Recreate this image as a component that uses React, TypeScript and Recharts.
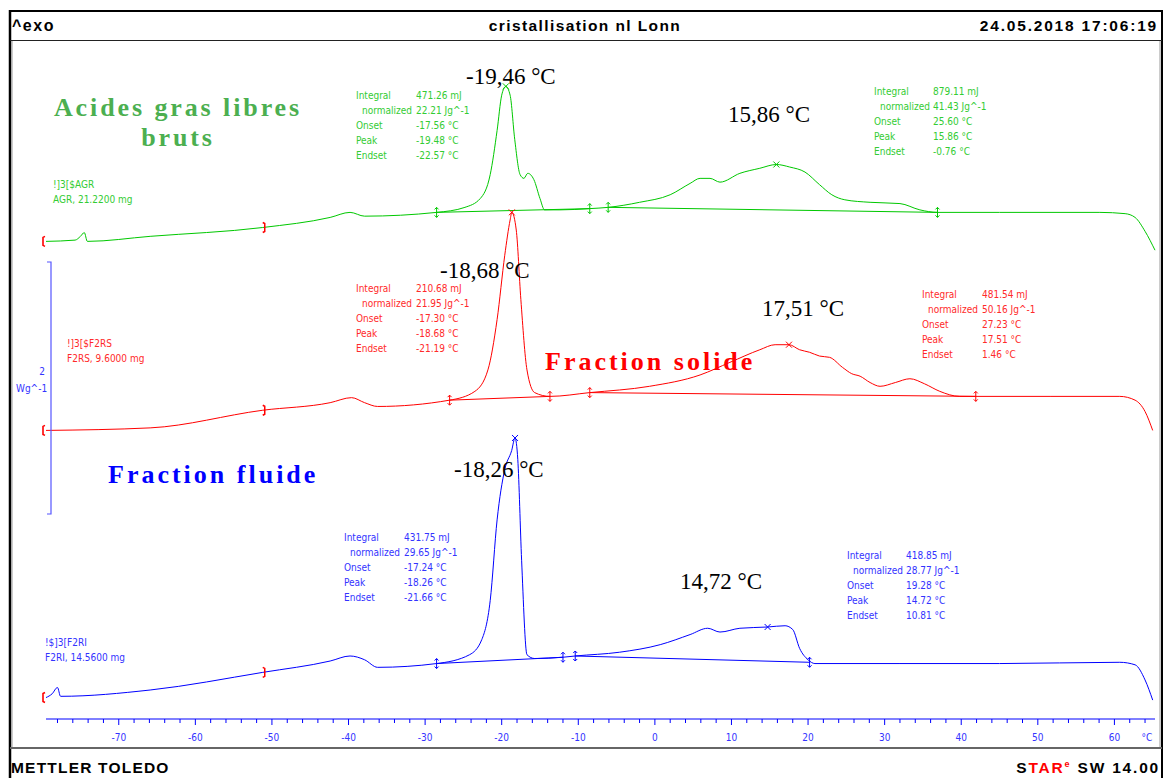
import React from 'react';
import { ComposedChart, Line, Scatter, XAxis, YAxis } from 'recharts';

// Heat flow curves: [temperature °C, heat flow W/g (stacked offset)]
const agrCurve: [number, number][] = [
  [-79.5, 3.79], [-75.7, 3.8], [-75.0, 3.83], [-74.5, 3.86], [-74.1, 3.79], [-65.9, 3.83], [-51.2, 3.9],
  [-42.4, 3.98], [-39.8, 4.02], [-37.9, 3.99], [-28.5, 4.02], [-24.8, 4.06], [-22.8, 4.13], [-21.5, 4.32],
  [-20.6, 4.67], [-20.0, 4.95], [-19.46, 5.02], [-18.9, 4.95], [-18.3, 4.6], [-17.6, 4.32], [-17.1, 4.29],
  [-16.6, 4.33], [-15.8, 4.28], [-15.0, 4.13], [-14.4, 4.04], [-12.4, 4.04], [-8.5, 4.05], [-6.1, 4.06],
  [-2.0, 4.1], [2.0, 4.16], [4.6, 4.25], [5.9, 4.29], [7.2, 4.29], [8.5, 4.26], [11.1, 4.33], [13.7, 4.37],
  [15.86, 4.4], [17.6, 4.38], [19.6, 4.34], [21.5, 4.24], [23.1, 4.16], [24.8, 4.12], [28.1, 4.1], [32.0, 4.09],
  [34.6, 4.04], [36.9, 4.02], [45.0, 4.02], [58.1, 4.02], [61.4, 4.01], [62.7, 3.98], [64.0, 3.87], [65.3, 3.72],
];
const f2rsCurve: [number, number][] = [
  [-79.5, 2.29], [-65.9, 2.31], [-51.2, 2.45], [-42.4, 2.51], [-39.6, 2.55], [-37.9, 2.51], [-36.2, 2.48],
  [-26.8, 2.53], [-23.5, 2.6], [-21.8, 2.77], [-20.6, 3.17], [-19.6, 3.68], [-18.9, 3.96], [-18.68, 4.02],
  [-18.1, 3.88], [-17.5, 3.33], [-16.7, 2.77], [-15.7, 2.59], [-13.7, 2.56], [-8.5, 2.59], [-0.7, 2.64],
  [5.9, 2.73], [9.8, 2.83], [13.7, 2.93], [15.7, 2.97], [17.51, 2.97], [18.9, 2.93], [20.2, 2.91], [21.5, 2.88],
  [22.8, 2.87], [24.5, 2.79], [25.7, 2.74], [26.8, 2.72], [28.1, 2.67], [29.4, 2.64], [31.4, 2.67], [33.3, 2.7],
  [35.2, 2.66], [37.2, 2.6], [39.8, 2.56], [41.9, 2.56], [51.6, 2.56], [60.7, 2.56], [62.7, 2.53], [64.0, 2.44],
  [65.0, 2.29],
];
const f2riCurve: [number, number][] = [
  [-79.5, 0.17], [-78.7, 0.2], [-78.0, 0.25], [-77.6, 0.18], [-65.9, 0.23], [-51.2, 0.37], [-42.4, 0.46],
  [-39.8, 0.5], [-37.9, 0.47], [-36.2, 0.41], [-28.5, 0.44], [-24.2, 0.51], [-22.6, 0.63], [-21.5, 0.94],
  [-20.6, 1.58], [-19.6, 1.98], [-18.7, 2.13], [-18.26, 2.23], [-17.9, 2.06], [-17.4, 1.26], [-16.7, 0.51],
  [-15.7, 0.48], [-12.0, 0.49], [-10.4, 0.5], [-4.6, 0.53], [0.7, 0.59], [4.6, 0.67], [6.9, 0.72], [8.5, 0.69],
  [11.1, 0.72], [14.72, 0.73], [17.0, 0.74], [18.0, 0.71], [18.9, 0.56], [20.0, 0.47], [20.9, 0.44],
  [32.0, 0.44], [45.0, 0.44], [60.7, 0.45], [62.7, 0.43], [64.0, 0.31], [65.0, 0.15],
];

// Integration baselines (pairs of limits)
const agrBaselines: [number, number][][] = [[[-28.5, 4.02], [-8.5, 4.05]], [[-6.1, 4.06], [36.9, 4.02]]];
const f2rsBaselines: [number, number][][] = [[[-26.8, 2.53], [-13.7, 2.56]], [[-8.5, 2.59], [41.9, 2.56]]];
const f2riBaselines: [number, number][][] = [[[-28.5, 0.44], [-12.0, 0.49]], [[-10.4, 0.5], [20.2, 0.45]]];

// Peaks
const agrPeaks: [number, number][] = [[-19.46, 5.02], [15.86, 4.4]];
const f2rsPeaks: [number, number][] = [[-18.68, 4.02], [17.51, 2.97]];
const f2riPeaks: [number, number][] = [[-18.26, 2.23], [14.72, 0.73]];

// Evaluation range brackets
const rangeStart: [number, number][] = [[-79.5, 3.79], [-79.5, 2.29], [-79.5, 0.17]];
const rangeEnd: [number, number][] = [[-51.2, 3.9], [-51.2, 2.45], [-51.2, 0.37]];

const majorTicks = [-70, -60, -50, -40, -30, -20, -10, 0, 10, 20, 30, 40, 50, 60];
const axisTicks: number[] = [];
for (let t = -78; t <= 64; t += 2) axisTicks.push(t);

const toPts = (arr: [number, number][]) => arr.map(([t, v]) => ({ t, v }));

const GREEN = '#00c800';
const RED = '#ff0000';
const BLUE = '#0000ff';
const TXT_GREEN = '#33cc33';
const TXT_RED = '#ff2a2a';
const TXT_BLUE = '#3333ff';

const SMALL = "'Liberation Sans Narrow', 'DejaVu Sans Condensed', 'Liberation Sans', sans-serif";
const HEAD = "'Liberation Sans', Arial, sans-serif";
const SERIF = "'Liberation Serif', 'Times New Roman', serif";

const AxisTick = (props: any) => {
  const { x, y, payload } = props;
  const v = payload.value;
  const major = majorTicks.includes(v);
  return (
    <g>
      <line x1={x} x2={x} y1={y} y2={y + (major ? 6 : 4)} stroke={BLUE} strokeWidth={1} />
      {major && (
        <text x={x} y={y + 22} textAnchor="middle" fontSize={10} fontFamily={SMALL} fill={TXT_BLUE}>
          {v}
        </text>
      )}
    </g>
  );
};

const Cross = (color: string) => (p: any) => (
  <g stroke={color} strokeWidth={1}>
    <line x1={p.cx - 3} y1={p.cy - 3} x2={p.cx + 3} y2={p.cy + 3} />
    <line x1={p.cx - 3} y1={p.cy + 3} x2={p.cx + 3} y2={p.cy - 3} />
  </g>
);

const LimitMark = (color: string) => (p: any) => (
  <g stroke={color} strokeWidth={1} fill="none">
    <line x1={p.cx} y1={p.cy - 5} x2={p.cx} y2={p.cy + 5} />
    <path d={`M${p.cx - 2},${p.cy - 3} L${p.cx},${p.cy - 5} L${p.cx + 2},${p.cy - 3}`} />
    <path d={`M${p.cx - 2},${p.cy + 3} L${p.cx},${p.cy + 5} L${p.cx + 2},${p.cy + 3}`} />
  </g>
);

const OpenBracket = (p: any) => (
  <path d={`M${p.cx - 1},${p.cy - 5} L${p.cx - 3},${p.cy - 4} L${p.cx - 3},${p.cy + 4} L${p.cx - 1},${p.cy + 5}`} stroke={RED} strokeWidth={1.6} fill="none" />
);
const CloseBracket = (p: any) => (
  <path d={`M${p.cx},${p.cy - 5} L${p.cx + 2},${p.cy - 4} L${p.cx + 2},${p.cy + 4} L${p.cx},${p.cy + 5}`} stroke={RED} strokeWidth={1.5} fill="none" />
);

type Table = { x: number; vx: number; y: number; color: string; rows: [string, string][] };
const tables: Table[] = [
  { x: 356, vx: 416, y: 99, color: TXT_GREEN, rows: [['Integral', '471.26 mJ'], ['  normalized', '22.21 Jg^-1'], ['Onset', '-17.56 °C'], ['Peak', '-19.48 °C'], ['Endset', '-22.57 °C']] },
  { x: 874, vx: 933, y: 95, color: TXT_GREEN, rows: [['Integral', '879.11 mJ'], ['  normalized', '41.43 Jg^-1'], ['Onset', '25.60 °C'], ['Peak', '15.86 °C'], ['Endset', '-0.76 °C']] },
  { x: 356, vx: 416, y: 292, color: TXT_RED, rows: [['Integral', '210.68 mJ'], ['  normalized', '21.95 Jg^-1'], ['Onset', '-17.30 °C'], ['Peak', '-18.68 °C'], ['Endset', '-21.19 °C']] },
  { x: 922, vx: 982, y: 298, color: TXT_RED, rows: [['Integral', '481.54 mJ'], ['  normalized', '50.16 Jg^-1'], ['Onset', '27.23 °C'], ['Peak', '17.51 °C'], ['Endset', '1.46 °C']] },
  { x: 344, vx: 404, y: 541, color: TXT_BLUE, rows: [['Integral', '431.75 mJ'], ['  normalized', '29.65 Jg^-1'], ['Onset', '-17.24 °C'], ['Peak', '-18.26 °C'], ['Endset', '-21.66 °C']] },
  { x: 847, vx: 906, y: 559, color: TXT_BLUE, rows: [['Integral', '418.85 mJ'], ['  normalized', '28.77 Jg^-1'], ['Onset', '19.28 °C'], ['Peak', '14.72 °C'], ['Endset', '10.81 °C']] },
];

const peakLabels: { x: number; y: number; text: string }[] = [
  { x: 466, y: 84, text: '-19,46 °C' },
  { x: 728, y: 122, text: '15,86 °C' },
  { x: 440, y: 278, text: '-18,68 °C' },
  { x: 762, y: 316, text: '17,51 °C' },
  { x: 454, y: 477, text: '-18,26 °C' },
  { x: 680, y: 589, text: '14,72 °C' },
];

const series = [
  { curve: agrCurve, base: agrBaselines, peaks: agrPeaks, color: GREEN },
  { curve: f2rsCurve, base: f2rsBaselines, peaks: f2rsPeaks, color: RED },
  { curve: f2riCurve, base: f2riBaselines, peaks: f2riPeaks, color: BLUE },
];

export default function App() {
  return (
    <div style={{ position: 'absolute', left: 0, top: 0, width: 1166, height: 778, background: '#fff', overflow: 'hidden' }}>
      <div style={{ position: 'absolute', left: 0, top: 0 }}>
        <ComposedChart width={1166} height={778} margin={{ top: 41, left: 46, right: 11, bottom: 29 }}>
          <XAxis
            dataKey="t"
            type="number"
            domain={[-79.5, 65.3]}
            ticks={axisTicks}
            interval={0}
            height={30}
            axisLine={{ stroke: BLUE, strokeWidth: 1 }}
            tickLine={false}
            tickSize={0}
            tickMargin={0}
            tick={<AxisTick />}
          />
          <YAxis type="number" domain={[0, 5.38]} hide width={0} />
          {series.map((s, i) => (
            <Line key={'c' + i} data={toPts(s.curve)} dataKey="v" type="monotone" stroke={s.color} strokeWidth={1} dot={false} isAnimationActive={false} />
          ))}
          {series.map((s, i) =>
            s.base.map((b, j) => (
              <Line key={'b' + i + j} data={toPts(b)} dataKey="v" type="linear" stroke={s.color} strokeWidth={1} dot={false} isAnimationActive={false} />
            ))
          )}
          {series.map((s, i) => (
            <Scatter key={'p' + i} data={toPts(s.peaks)} dataKey="v" shape={Cross(s.color)} isAnimationActive={false} />
          ))}
          {series.map((s, i) => (
            <Scatter key={'l' + i} data={toPts(s.base.flat())} dataKey="v" shape={LimitMark(s.color)} isAnimationActive={false} />
          ))}
          <Scatter data={toPts(rangeStart)} dataKey="v" shape={OpenBracket} isAnimationActive={false} />
          <Scatter data={toPts(rangeEnd)} dataKey="v" shape={CloseBracket} isAnimationActive={false} />
        </ComposedChart>
      </div>
      <svg width={1166} height={778} style={{ position: 'absolute', left: 0, top: 0, pointerEvents: 'none' }}>
        {/* frame */}
        <line x1={10} y1={11} x2={1162} y2={11} stroke="#000" strokeWidth={2} />
        <line x1={10} y1={10} x2={10} y2={778} stroke="#000" strokeWidth={2.5} />
        <line x1={1162} y1={10} x2={1162} y2={778} stroke="#000" strokeWidth={2} />
        <line x1={10} y1={40.5} x2={1162} y2={40.5} stroke="#222" strokeWidth={1.2} />
        <line x1={12} y1={41} x2={12} y2={748} stroke="#999" strokeWidth={1} />
        <line x1={1160} y1={41} x2={1160} y2={748} stroke="#999" strokeWidth={1} />
        <line x1={10} y1={748} x2={1162} y2={748} stroke="#666" strokeWidth={2} />
        {/* header */}
        <text x={12} y={31} fontFamily={HEAD} fontWeight="bold" fontSize={16} letterSpacing={1.5} fill="#000">^exo</text>
        <text x={585} y={31} textAnchor="middle" fontFamily={HEAD} fontWeight="bold" fontSize={15.5} letterSpacing={1.4} fill="#000">cristallisation nl Lonn</text>
        <text x={1158} y={31} textAnchor="end" fontFamily={HEAD} fontWeight="bold" fontSize={15.5} letterSpacing={1.8} fill="#000">24.05.2018 17:06:19</text>
        {/* footer */}
        <text x={11} y={773} fontFamily={HEAD} fontWeight="bold" fontSize={15.5} letterSpacing={1.2} fill="#000">METTLER TOLEDO</text>
        <text x={1160} y={773} textAnchor="end" fontFamily={HEAD} fontWeight="bold" fontSize={15.5} letterSpacing={1.8} fill="#000">
          <tspan>S</tspan>
          <tspan fill="#ff0000">TAR</tspan>
          <tspan fill="#ff0000" fontSize={9} dy={-6}>e</tspan>
          <tspan dy={6}> SW 14.00</tspan>
        </text>
        {/* axis unit */}
        <text x={1147} y={741} textAnchor="middle" fontFamily={SMALL} fontSize={10} fill={TXT_BLUE}>°C</text>
        {/* scale bar */}
        <path d="M47,262 L51,262 L51,514 L47,514" stroke="#5555ff" strokeWidth={1.2} fill="none" />
        <text x={42} y={375} textAnchor="middle" fontFamily={SMALL} fontSize={10} fill={TXT_BLUE}>2</text>
        <text x={16} y={392} fontFamily={SMALL} fontSize={10} fill={TXT_BLUE}>Wg^-1</text>
        {/* sample labels */}
        <text x={53} y={188} fontFamily={SMALL} fontSize={10} fill={TXT_GREEN}>!]3[$AGR</text>
        <text x={53} y={203} fontFamily={SMALL} fontSize={10} fill={TXT_GREEN}>AGR, 21.2200 mg</text>
        <text x={67} y={347} fontFamily={SMALL} fontSize={10} fill={TXT_RED}>!]3[$F2RS</text>
        <text x={67} y={362} fontFamily={SMALL} fontSize={10} fill={TXT_RED}>F2RS, 9.6000 mg</text>
        <text x={45} y={646} fontFamily={SMALL} fontSize={10} fill={TXT_BLUE}>!$]3[F2RI</text>
        <text x={45} y={661} fontFamily={SMALL} fontSize={10} fill={TXT_BLUE}>F2RI, 14.5600 mg</text>
        {/* tables */}
        {tables.map((tb, i) => (
          <g key={'t' + i} fontFamily={SMALL} fontSize={10} fill={tb.color}>
            {tb.rows.map((r, j) => (
              <g key={j}>
                <text x={tb.x + (r[0].startsWith(' ') ? 6 : 0)} y={tb.y + j * 15}>{r[0].trim()}</text>
                <text x={tb.vx} y={tb.y + j * 15}>{r[1]}</text>
              </g>
            ))}
          </g>
        ))}
        {/* peak temperature labels */}
        {peakLabels.map((p, i) => (
          <text key={'pl' + i} x={p.x} y={p.y} fontFamily={SERIF} fontSize={23} fill="#000">{p.text}</text>
        ))}
        {/* big labels */}
        <text x={178} y={116} textAnchor="middle" fontFamily={SERIF} fontWeight="bold" fontSize={26} letterSpacing={2.9} fill="#4caf50">Acides gras libres</text>
        <text x={178} y={146} textAnchor="middle" fontFamily={SERIF} fontWeight="bold" fontSize={26} letterSpacing={2.9} fill="#4caf50">bruts</text>
        <text x={545} y={370} fontFamily={SERIF} fontWeight="bold" fontSize={26} letterSpacing={3} fill="#ff0000">Fraction solide</text>
        <text x={108} y={483} fontFamily={SERIF} fontWeight="bold" fontSize={26} letterSpacing={3} fill="#0000ff">Fraction fluide</text>
      </svg>
    </div>
  );
}
